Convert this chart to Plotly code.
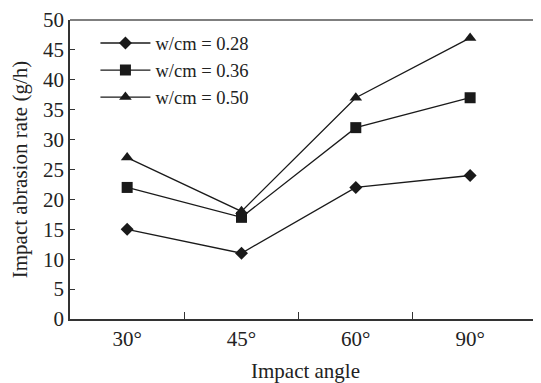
import plotly.graph_objects as go

categories = ["30°", "45°", "60°", "90°"]
series_names = ["w/cm = 0.28", "w/cm = 0.36", "w/cm = 0.50"]
wc028 = [15, 11, 22, 24]
wc036 = [22, 17, 32, 37]
wc050 = [27, 18, 37, 47]
y_ticks = [0, 5, 10, 15, 20, 25, 30, 35, 40, 45, 50]

xpos = list(range(len(categories)))
font = "Liberation Serif, Times New Roman, serif"
col = "#1a1a1a"

fig = go.Figure()
styles = [("diamond", 10), ("square", 11), ("triangle-up", 11)]
for name, vals, (sym, sz) in zip(series_names, [wc028, wc036, wc050], styles):
    fig.add_trace(go.Scatter(
        x=xpos, y=vals, name=name, mode="lines+markers",
        line=dict(color=col, width=1.3),
        marker=dict(symbol=sym, size=sz, color=col),
    ))

fig.update_layout(
    width=533, height=375,
    margin=dict(l=62, r=0, t=12, b=64),
    paper_bgcolor="white", plot_bgcolor="white",
    font=dict(family=font, size=21, color="#222"),
    showlegend=True,
    legend=dict(x=0.054, y=0.985, xanchor="left", yanchor="top",
                bgcolor="rgba(0,0,0,0)", font=dict(size=18.5, family=font),
                itemwidth=50, tracegroupgap=0),
    xaxis=dict(
        automargin=False,
        range=[-0.5, 3.62], tickvals=xpos, ticktext=categories,
        ticks="", showgrid=False, zeroline=False,
        showline=True, linecolor="#333", linewidth=1.5,
        tickfont=dict(size=21, family=font),
        minor=dict(tickvals=[0.5, 1.5, 2.5], ticks="inside", ticklen=7,
                   tickcolor="#333", tickwidth=1, showgrid=False),
        title=dict(text="Impact angle", font=dict(size=21, family=font), standoff=13),
    ),
    yaxis=dict(
        automargin=False, ticklabeloverflow="allow",
        range=[0, 50], tickvals=y_ticks, ticks="inside", ticklen=5,
        tickcolor="#333", showgrid=False, zeroline=False,
        showline=True, linecolor="#333", linewidth=1.5,
        tickfont=dict(size=21, family=font),
        title=dict(text="Impact abrasion rate (g/h)", font=dict(size=21, family=font), standoff=10),
    ),
    shapes=[dict(type="line", xref="paper", yref="paper", x0=0, x1=1, y0=1, y1=1,
                 line=dict(color="#555", width=1.5))],
)

fig.write_html("out.html")
